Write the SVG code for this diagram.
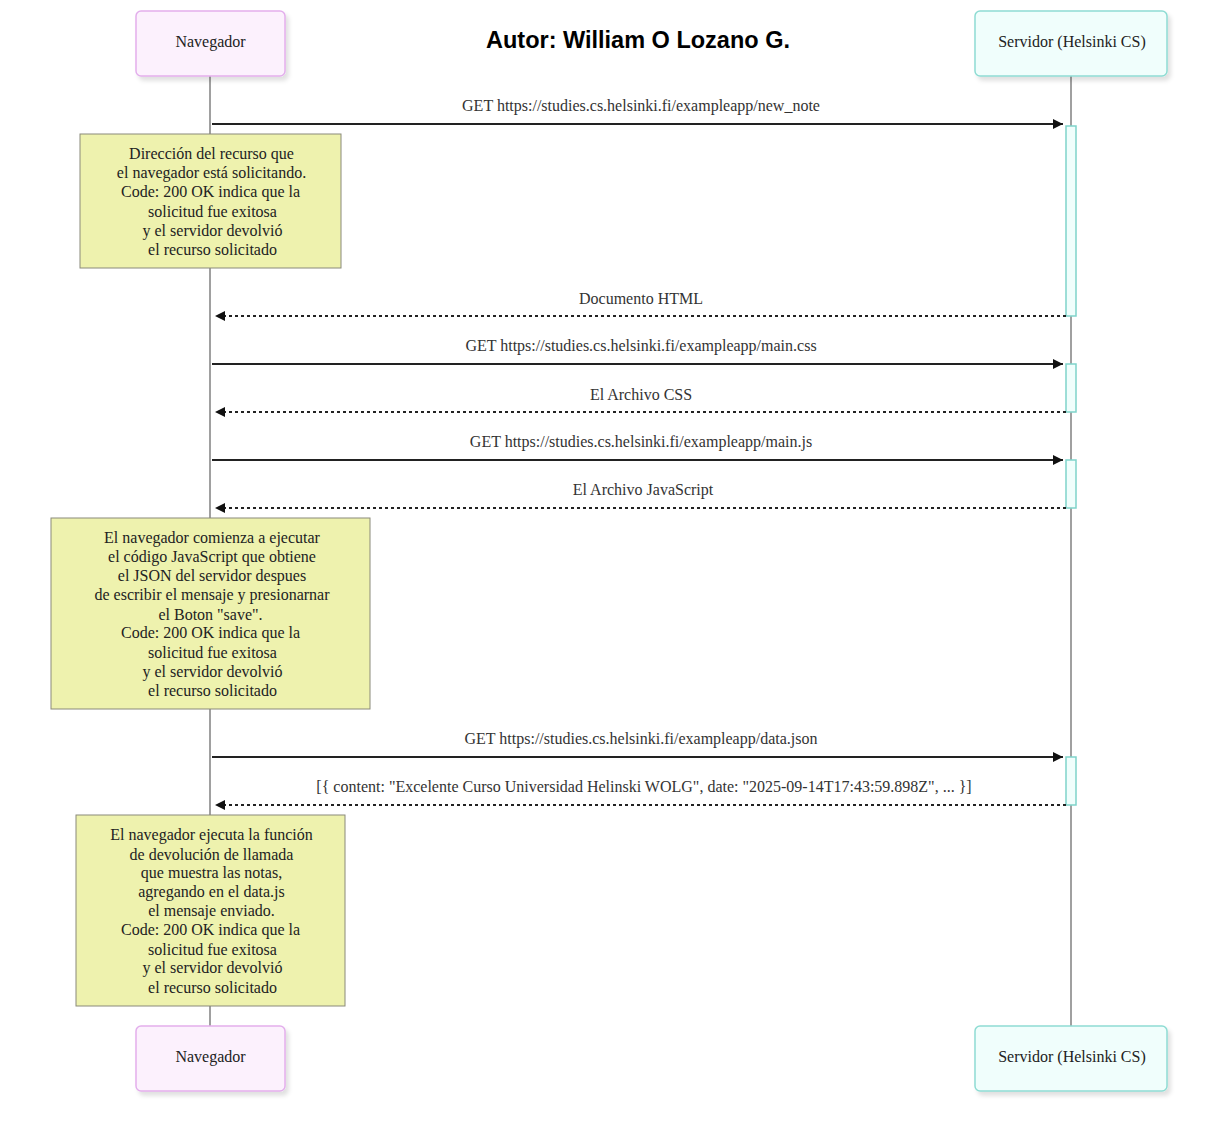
<svg xmlns="http://www.w3.org/2000/svg" width="1218" height="1132" viewBox="0 0 1218 1132">
<defs>
  <filter id="shadow" x="-10%" y="-10%" width="130%" height="140%">
    <feDropShadow dx="3" dy="4" stdDeviation="2" flood-color="#000" flood-opacity="0.12"/>
  </filter>
  <marker id="arrow" viewBox="0 0 10 10" refX="10" refY="5" markerWidth="10" markerHeight="10" markerUnits="userSpaceOnUse" orient="auto">
    <path d="M0,0 L10,5 L0,10 z" fill="#111"/>
  </marker>
  <style>
    .txt { font-family: "Liberation Serif", "Times New Roman", serif; font-size: 16px; fill: #222; text-anchor: middle; }
    .msg { font-family: "Liberation Serif", "Times New Roman", serif; font-size: 16px; fill: #333; text-anchor: middle; }
    .title { font-family: "Liberation Sans", Arial, sans-serif; font-size: 23.5px; font-weight: bold; fill: #000; text-anchor: middle; }
    .nav { fill: #fcf1fd; stroke: #e3afec; stroke-width: 1.5; }
    .srv { fill: #f0fefc; stroke: #8edcd3; stroke-width: 1.5; }
    .life { stroke: #a0a0a0; stroke-width: 2; }
    .act { fill: #f0fefc; stroke: #7fd3ca; stroke-width: 1.5; }
    .note { fill: #eef2ae; stroke: #8a8a7a; stroke-width: 1; }
    .solid { stroke: #222; stroke-width: 2; fill: none; }
    .dash { stroke: #222; stroke-width: 2; stroke-dasharray: 3,3; fill: none; }
  </style>
</defs>
<rect width="1218" height="1132" fill="#fff"/>

<g id="lifelines">
  <line class="life" x1="210" y1="76" x2="210" y2="1026"/>
  <line class="life" x1="1071" y1="76" x2="1071" y2="1026"/>
</g>

<g id="title">
  <text class="title" x="638" y="48">Autor: William O Lozano G.</text>
</g>

<g id="actor-navegador-top">
  <rect class="nav" x="136" y="11" width="149" height="65" rx="5" filter="url(#shadow)"/>
  <text class="txt" x="210.5" y="47">Navegador</text>
</g>
<g id="actor-servidor-top">
  <rect class="srv" x="975" y="11" width="192" height="65" rx="5" filter="url(#shadow)"/>
  <text class="txt" x="1072" y="47">Servidor (Helsinki CS)</text>
</g>
<g id="actor-navegador-bottom">
  <rect class="nav" x="136" y="1026" width="149" height="65" rx="5" filter="url(#shadow)"/>
  <text class="txt" x="210.5" y="1062">Navegador</text>
</g>
<g id="actor-servidor-bottom">
  <rect class="srv" x="975" y="1026" width="192" height="65" rx="5" filter="url(#shadow)"/>
  <text class="txt" x="1072" y="1062">Servidor (Helsinki CS)</text>
</g>

<g id="activations">
  <rect class="act" x="1066" y="126" width="10" height="190"/>
  <rect class="act" x="1066" y="364" width="10" height="48"/>
  <rect class="act" x="1066" y="460" width="10" height="48"/>
  <rect class="act" x="1066" y="757" width="10" height="48"/>
</g>

<g id="connectors">
  <line class="solid" x1="212" y1="124" x2="1063" y2="124" marker-end="url(#arrow)"/>
  <text class="msg" x="641" y="111">GET https://studies.cs.helsinki.fi/exampleapp/new_note</text>

  <line class="dash" x1="1066" y1="316" x2="215" y2="316" marker-end="url(#arrow)"/>
  <text class="msg" x="641" y="304">Documento HTML</text>

  <line class="solid" x1="212" y1="364" x2="1063" y2="364" marker-end="url(#arrow)"/>
  <text class="msg" x="641" y="351">GET https://studies.cs.helsinki.fi/exampleapp/main.css</text>

  <line class="dash" x1="1066" y1="412" x2="215" y2="412" marker-end="url(#arrow)"/>
  <text class="msg" x="641" y="400">El Archivo CSS</text>

  <line class="solid" x1="212" y1="460" x2="1063" y2="460" marker-end="url(#arrow)"/>
  <text class="msg" x="641" y="447">GET https://studies.cs.helsinki.fi/exampleapp/main.js</text>

  <line class="dash" x1="1066" y1="508" x2="215" y2="508" marker-end="url(#arrow)"/>
  <text class="msg" x="643" y="495">El Archivo JavaScript</text>

  <line class="solid" x1="212" y1="757" x2="1063" y2="757" marker-end="url(#arrow)"/>
  <text class="msg" x="641" y="744">GET https://studies.cs.helsinki.fi/exampleapp/data.json</text>

  <line class="dash" x1="1066" y1="805" x2="215" y2="805" marker-end="url(#arrow)"/>
  <text class="msg" x="644" y="792">[{ content: "Excelente Curso Universidad Helinski WOLG", date: "2025-09-14T17:43:59.898Z", ... }]</text>
</g>

<g id="note-1">
  <rect class="note" x="80" y="134" width="261" height="134"/>
  <text class="txt" x="211.5" y="159">Dirección del recurso que</text>
  <text class="txt" x="211.5" y="178">el navegador está solicitando.</text>
  <text class="txt" x="210.5" y="197">Code: 200 OK indica que la</text>
  <text class="txt" x="212.5" y="217">solicitud fue exitosa</text>
  <text class="txt" x="212.5" y="236">y el servidor devolvió</text>
  <text class="txt" x="212.5" y="255">el recurso solicitado</text>
</g>

<g id="note-2">
  <rect class="note" x="51" y="518" width="319" height="191"/>
  <text class="txt" x="212" y="543">El navegador comienza a ejecutar</text>
  <text class="txt" x="212" y="562">el código JavaScript que obtiene</text>
  <text class="txt" x="212" y="581">el JSON del servidor despues</text>
  <text class="txt" x="212" y="600">de escribir el mensaje y presionarnar</text>
  <text class="txt" x="210.5" y="620">el Boton "save".</text>
  <text class="txt" x="210.5" y="638">Code: 200 OK indica que la</text>
  <text class="txt" x="212.5" y="658">solicitud fue exitosa</text>
  <text class="txt" x="212.5" y="677">y el servidor devolvió</text>
  <text class="txt" x="212.5" y="696">el recurso solicitado</text>
</g>

<g id="note-3">
  <rect class="note" x="76" y="815" width="269" height="191"/>
  <text class="txt" x="211.5" y="840">El navegador ejecuta la función</text>
  <text class="txt" x="211.5" y="860">de devolución de llamada</text>
  <text class="txt" x="211.5" y="878">que muestra las notas,</text>
  <text class="txt" x="211.5" y="897">agregando en el data.js</text>
  <text class="txt" x="211.5" y="916">el mensaje enviado.</text>
  <text class="txt" x="210.5" y="935">Code: 200 OK indica que la</text>
  <text class="txt" x="212.5" y="955">solicitud fue exitosa</text>
  <text class="txt" x="212.5" y="973">y el servidor devolvió</text>
  <text class="txt" x="212.5" y="993">el recurso solicitado</text>
</g>
</svg>
